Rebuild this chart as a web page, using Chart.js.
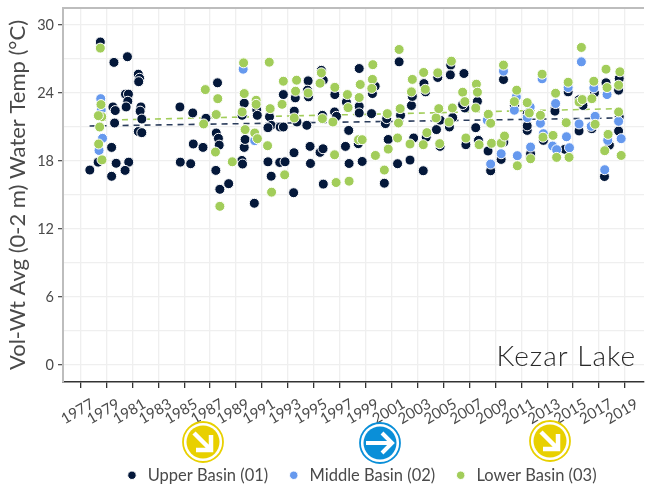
<!DOCTYPE html>
<html>
<head>
<meta charset="utf-8">
<title>Kezar Lake</title>
<script src="https://cdn.jsdelivr.net/npm/chart.js@4/dist/chart.umd.min.js"></script>
<style>
html,body{margin:0;padding:0;background:#fff}
#wrap{position:relative;width:650px;height:487px;overflow:hidden}
canvas{position:absolute;left:0;top:0}
.icon{position:absolute;width:42px;height:42px}
</style>
</head>
<body>
<div id="wrap">
  <canvas id="c" width="650" height="487"></canvas>
  <svg class="icon" style="left:182px;top:421px" viewBox="0 0 42 42">
    <circle cx="21" cy="21" r="20" fill="#fff" stroke="#e8d000" stroke-width="1.8"/>
    <circle cx="21" cy="21" r="16.5" fill="#e8d000"/>
    <path d="M12 12 L28 28 M29 14 V29 H14" fill="none" stroke="#fff" stroke-width="4.5"/>
  </svg>
  <svg class="icon" style="left:359px;top:422px" viewBox="0 0 42 42">
    <circle cx="21" cy="21" r="20" fill="#fff" stroke="#0a8fd8" stroke-width="1.8"/>
    <circle cx="21" cy="21" r="16.5" fill="#0a8fd8"/>
    <path d="M7 21 H33 M23 11 L33 21 L23 31" fill="none" stroke="#fff" stroke-width="4"/>
  </svg>
  <svg class="icon" style="left:529px;top:420px" viewBox="0 0 42 42">
    <circle cx="21" cy="21" r="20" fill="#fff" stroke="#e8d000" stroke-width="1.8"/>
    <circle cx="21" cy="21" r="16.5" fill="#e8d000"/>
    <path d="M12 12 L28 28 M29 14 V29 H14" fill="none" stroke="#fff" stroke-width="4.5"/>
  </svg>
</div>
<script>
function q(id){return document.getElementById(id)}

const xTickYears = [1977,1979,1981,1983,1985,1987,1989,1991,1993,1995,1997,1999,2001,2003,2005,2007,2009,2011,2013,2015,2017,2019];
const yGridTemps = [0,3,6,9,12,15,18,21,24,27,30];
const yLabelTemps = [0,6,12,18,24,30];

const upperYears = [1977.72,1978.53,1978.36,1979.58,1980.62,1981.46,1981.56,1981.49,1980.47,1980.7,1980.65,1980.52,1979.5,1979.68,1981.66,1981.6,1981.73,1979.63,1981.46,1981.73,1979.4,1979.75,1980.72,1979.4,1980.44,
  1984.67,1985.66,1986.68,1987.47,1987.64,1987.7,1985.7,1986.45,1984.7,1985.5,1987.44,1987.57,1987.75,1988.43,1989.45,1989.5,1989.63,1989.7,1989.63,1989.47,
  1990.41,1990.6,1990.64,1991.58,1991.71,1991.46,1991.46,1991.71,1992.37,1992.78,1992.4,1992.65,1992.65,1993.57,1993.49,1993.7,1993.47,1993.44,1994.46,1994.56,1994.51,1994.59,1994.71,1994.74,
  1995.48,1995.71,1995.73,1995.58,1995.73,1995.66,1996.62,1996.6,1996.75,1997.44,1997.69,1997.72,1997.51,1998.5,1999.52,1999.73,1998.5,1998.5,1999.45,1998.43,1998.73,
  2000.44,2000.52,2000.74,2000.62,2001.46,2001.58,2001.69,2002.42,2002.53,2002.6,2002.7,2003.44,2003.49,2003.67,2004.56,2003.62,2004.46,2004.74,2004.75,
  2005.56,2005.53,2006.58,2006.65,2006.48,2005.71,2005.46,2006.73,2007.49,2007.62,2007.7,2008.44,2008.64,2009.45,2009.63,2009.66,2010.47,2011.46,2011.46,2011.46,2011.69,2011.72,
  2013.6,2013.6,2012.71,2014.62,2014.36,2015.46,2015.46,2015.76,2016.65,2016.45,2017.54,2017.42,2017.8,2018.51,2018.51,2018.56,2018.56];
const upperTemps = [17.2,28.5,17.9,26.7,27.2,25.66,25.3,25.0,23.9,23.9,23.27,22.77,22.77,22.45,22.77,22.4,21.7,21.35,20.6,20.5,19.2,17.8,17.9,16.65,17.17,
  22.77,22.24,21.77,20.47,20.0,19.4,19.5,19.2,17.9,17.76,17.17,24.9,15.5,16.0,18.05,17.73,19.2,19.9,23.1,22.03,
  14.27,22.5,22.03,21.9,21.15,20.94,17.93,16.66,17.87,17.93,21.0,21.0,23.86,23.57,22.4,21.44,18.73,15.2,21.15,25.07,24.25,23.66,19.29,17.78,
  18.76,19.08,15.96,26.0,25.13,22.03,23.86,22.33,21.94,19.29,20.7,17.78,23.2,26.16,23.95,24.6,22.83,22.24,22.18,19.53,17.96,
  16.04,21.3,19.9,21.74,17.76,26.75,22.03,18.08,22.9,23.7,20.03,17.14,24.83,20.1,25.37,24.1,20.77,19.29,21.6,
  26.46,25.6,25.72,22.68,22.98,21.83,21.0,19.44,20.94,23.27,19.82,18.88,17.14,18.14,25.19,19.67,22.9,20.7,21.1,22.18,18.35,18.64,
  22.6,22.4,19.82,24.1,19.03,20.65,23.4,22.9,24.0,20.85,24.9,16.63,19.4,20.65,24.25,25.28,21.9];

const middleYears = [1978.56,1978.6,1978.7,1978.43,1989.55,1990.44,2008.38,2008.64,2009.45,2009.63,2010.47,2010.62,2010.7,2011.69,2011.46,2011.72,2012.48,2012.61,2012.71,2013.42,2013.73,2013.65,2014.49,2014.62,2014.72,2015.46,2015.64,2016.4,2016.7,2016.6,2017.62,2017.67,2017.44,2018.51,2018.71];
const middleTemps = [23.5,22.5,20.0,18.93,26.1,19.8,21.6,17.73,18.64,25.93,22.48,23.66,18.47,22.77,21.83,19.23,21.33,25.25,20.41,19.32,19.0,23.07,20.14,24.48,19.17,21.27,26.75,21.06,21.94,24.45,23.86,19.82,17.23,21.5,19.97];

const lowerYears = [1978.53,1978.58,1978.64,1978.38,1978.48,1978.4,1978.66,1986.63,1987.59,1987.47,1986.5,1987.41,1988.71,1987.75,1989.58,1989.63,1989.47,1989.7,1990.44,1990.65,1990.55,1990.55,
  1991.56,1991.43,1991.63,1991.74,1992.65,1992.55,1992.75,1993.67,1993.59,1993.49,1994.56,1995.58,1995.48,1995.66,1996.6,1996.62,1996.72,1996.47,1997.59,1997.64,1997.72,1998.5,1998.58,1998.45,1998.73,
  1999.52,1999.55,1999.47,1999.75,2000.44,2000.67,2000.74,2001.46,2001.53,2001.58,2001.66,2002.42,2002.53,2002.6,2003.44,2003.47,2003.6,2003.72,2004.56,2004.43,2004.64,2004.71,
  2005.43,2005.61,2005.69,2006.48,2006.65,2006.73,2007.49,2007.54,2007.62,2007.75,2008.46,2008.64,2008.71,2009.45,2009.63,2009.71,2010.47,2010.65,2010.7,2011.46,2011.62,2011.72,2012.48,2012.61,2012.68,
  2013.45,2013.65,2013.73,2014.47,2014.62,2014.69,2015.46,2015.71,2015.64,2016.45,2016.6,2016.7,2017.44,2017.54,2017.62,2017.7,2018.51,2018.61,2018.51,2018.71];
const lowerTemps = [27.96,22.98,21.9,22.0,21.0,19.5,18.1,24.3,23.5,22.1,21.27,18.79,17.93,14.0,26.66,23.95,22.33,20.77,20.47,19.97,23.36,23.0,
  26.72,19.35,22.62,15.25,25.04,23.0,16.78,25.13,24.16,21.8,24.0,25.78,24.86,21.74,18.55,24.5,16.1,21.44,23.86,22.71,16.22,23.6,24.75,19.88,19.88,
  25.2,26.5,24.4,18.49,17.2,22.18,19.05,20.03,21.35,27.84,22.62,19.5,24.1,25.2,19.44,25.81,24.33,20.5,25.78,21.8,22.62,19.53,
  21.44,26.81,22.68,24.07,23.24,20.03,22.68,24.78,24.07,19.44,22.12,21.33,19.56,19.58,26.46,20.2,23.24,24.25,17.58,23.15,22.24,18.2,22.03,25.66,20.1,
  20.26,23.98,18.32,21.38,24.95,18.32,23.2,23.42,28.02,23.5,25.04,21.24,18.91,26.1,24.48,20.35,24.69,25.87,22.33,18.49];

const upperTrendYears = [1977.7,2018.6];
const upperTrendTemps = [21.09,21.8];
const lowerTrendYears = [1978.5,2018.6];
const lowerTrendTemps = [21.6,22.62];

const navy = '#04183a', blue = '#6699ee', green = '#a2cd5a';
const textCol = '#4a4a4a', font = 'Lato, sans-serif';

function pts(xs, ys){return xs.map((x,i)=>({x:x,y:ys[i]}))}
function dots(label, xs, ys, col, order){
  return {label, data:pts(xs,ys), backgroundColor:col, borderColor:'#fff', borderWidth:1, pointRadius:5, pointHoverRadius:5, order, pointStyle:'circle'};
}
function trend(label, xs, ys, col){
  return {label, data:pts(xs,ys), showLine:true, borderColor:col, borderWidth:1.6, borderDash:[6,5], pointRadius:0, order:4, fill:false};
}

// panel top line, lake name and legend placement
const extras = {
  id:'extras',
  afterLayout(chart){
    chart.legend.left += 7; chart.legend.right += 7;
    chart.legend.top = 449;
  },
  afterDraw(chart){
    const c = chart.ctx, a = chart.chartArea;
    c.save();
    c.strokeStyle = '#bdbdbd'; c.lineWidth = 2;
    c.beginPath(); c.moveTo(a.left,a.top); c.lineTo(a.right,a.top); c.stroke();
    c.fillStyle = '#2a2a2a'; c.font = '300 28px '+font; c.letterSpacing = '1px';
    c.textAlign = 'right'; c.textBaseline = 'alphabetic';
    c.fillText('Kezar Lake', 636, 366);
    c.restore();
  }
};

new Chart(q('c'), {
  type:'scatter',
  plugins:[extras],
  data:{datasets:[
    dots('Upper Basin (01)', upperYears, upperTemps, navy, 3),
    dots('Middle Basin (02)', middleYears, middleTemps, blue, 2),
    dots('Lower Basin (03)', lowerYears, lowerTemps, green, 1),
    trend('Upper trend', upperTrendYears, upperTrendTemps, '#2b3d5c'),
    trend('Lower trend', lowerTrendYears, lowerTrendTemps, green)
  ]},
  options:{
    responsive:false, animation:false, devicePixelRatio:1,
    layout:{padding:{left:0,right:0,top:8,bottom:0}},
    plugins:{
      tooltip:{enabled:false},
      legend:{
        position:'bottom', fullSize:false,
        labels:{
          usePointStyle:true, boxHeight:6, boxWidth:15, padding:18,
          color:textCol, font:{family:font,size:16.5},
          filter:i=>i.datasetIndex<3,
          sort:(a,b)=>a.datasetIndex-b.datasetIndex
        }
      }
    },
    scales:{
      x:{
        type:'linear', min:1975.65, max:2020.47,
        afterBuildTicks(s){s.ticks = xTickYears.map(v=>({value:v}))},
        afterFit(s){s.height = 60.5},
        grid:{color:'#efefef', lineWidth:1.3, tickColor:'#333', tickLength:6},
        border:{color:'#333', width:1.5},
        ticks:{autoSkip:false, maxRotation:30, minRotation:30, labelOffset:12, color:textCol, padding:7, font:{family:font,size:15}, callback:v=>String(v)}
      },
      y:{
        min:-1.5, max:31.5,
        afterBuildTicks(s){s.ticks = yGridTemps.map(v=>({value:v}))},
        afterFit(s){s.width = 63; s.paddingTop = 0; s.paddingBottom = 0},
        grid:{color:'#efefef', lineWidth:1.3, tickLength:5, tickColor:c=>yLabelTemps.includes(c.tick.value)?'#555':'rgba(0,0,0,0)'},
        border:{color:'#bdbdbd', width:2},
        ticks:{autoSkip:false, color:textCol, padding:4, font:{family:font,size:14.5}, callback:v=>yLabelTemps.includes(v)?String(v):''},
        title:{display:true, text:'Vol-Wt Avg (0-2 m) Water Temp (°C)', color:textCol, font:{family:font,size:22}, padding:{top:5,bottom:4}}
      }
    }
  }
});
</script>
</body>
</html>
